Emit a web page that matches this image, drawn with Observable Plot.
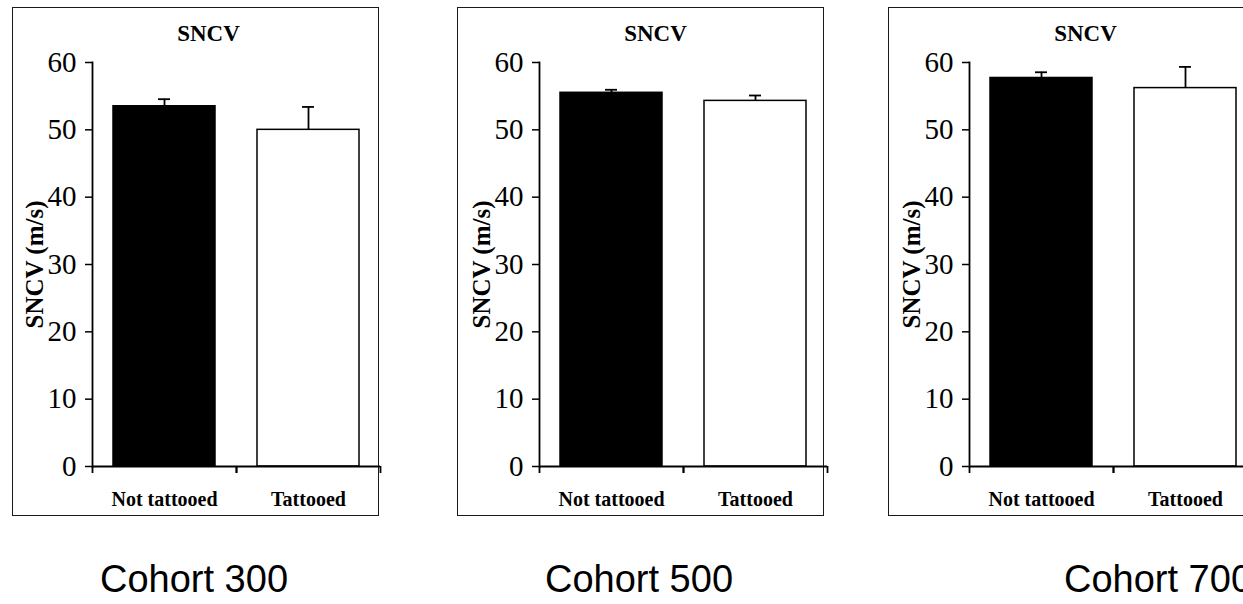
<!DOCTYPE html>
<html>
<head>
<meta charset="utf-8">
<script src="https://cdn.jsdelivr.net/npm/d3@7"></script>
<script src="https://cdn.jsdelivr.net/npm/@observablehq/plot@0.6"></script>
<style>
  html, body { margin: 0; padding: 0; background: #fff; }
  #root { position: relative; width: 1243px; height: 604px; overflow: hidden; background: #fff; }
  .frame { position: absolute; box-sizing: border-box; border: 1.5px solid #1a1a1a; }
  .panel { position: absolute; width: 400px; }
  .panel svg { overflow: visible; max-width: none !important; }
  .cohort { position: absolute; font-family: "Liberation Sans", Arial, sans-serif; font-size: 38px; line-height: 38px; white-space: nowrap; color: #000; }
</style>
</head>
<body>
<div id="root"></div>
<script>
// ---- data ----
const categories = ["Not tattooed", "Tattooed"];
const cohorts = ["Cohort 300", "Cohort 500", "Cohort 700"];
const means300 = [53.5, 50.0];
const errs300  = [1.05, 3.4];
const means500 = [55.5, 54.3];
const errs500  = [0.45, 0.8];
const means700 = [57.7, 56.2];
const errs700  = [0.85, 3.15];
const barFills = ["black", "white"];
const yTicks = [0, 10, 20, 30, 40, 50, 60];
const panelTitle = "SNCV";
const yLabel = "SNCV (m/s)";

// ---- layout (styling only) ----
const frameLefts = [12, 457, 888];
const axisLefts = [92, 539, 969];
const cohortLefts = [100, 545, 1064];
const mL = 80, mR = 4, mT = 55, mB = 50, innerW = 288, H = 509;
const padIn = 0.29, padOut = padIn / 2;
const step = innerW / categories.length;

const series = [[means300, errs300], [means500, errs500], [means700, errs700]];
const root = document.getElementById("root");

series.forEach(([means, errs], i) => {
  const rows = categories.map((c, j) => ({cat: c, mean: means[j], err: errs[j], fill: barFills[j]}));

  const frame = document.createElement("div");
  frame.className = "frame";
  frame.style.left = frameLefts[i] + "px";
  frame.style.top = "7px";
  frame.style.width = "367px";
  frame.style.height = H + "px";
  root.appendChild(frame);

  const chart = Plot.plot({
    width: mL + innerW + mR,
    height: H,
    marginLeft: mL, marginRight: mR, marginTop: mT, marginBottom: mB,
    x: {domain: categories, paddingInner: padIn, paddingOuter: padOut, axis: null},
    y: {domain: [0, 60], axis: null},
    color: {type: "identity"},
    style: {fontFamily: "'Liberation Serif', 'Times New Roman', serif", background: "transparent", color: "black", overflow: "visible", maxWidth: "none"},
    marks: [
      Plot.barY(rows, {x: "cat", y: "mean", fill: "fill", stroke: "black", strokeWidth: 1.5}),
      Plot.ruleX(rows, {x: "cat", y1: "mean", y2: d => d.mean + d.err, stroke: "black", strokeWidth: 1.8}),
      Plot.tickY(rows, {x: "cat", y: d => d.mean + d.err, insetLeft: 45, insetRight: 45, stroke: "black", strokeWidth: 1.8}),
      Plot.ruleY([0], {stroke: "black", strokeWidth: 1.8}),
      Plot.frame({anchor: "left", stroke: "black", strokeWidth: 1.8}),
      Plot.axisY({ticks: yTicks, tickSize: 7, tickPadding: 9, fontSize: 29, label: null, stroke: "black", strokeWidth: 1.5}),
      Plot.axisX({tickSize: 0, tickPadding: 25, fontSize: 20, fontWeight: "bold", label: null}),
      Plot.ruleX(categories, {x: d => d, y1: 0, y2: 0, insetBottom: -7, dx: -step / 2, stroke: "black", strokeWidth: 1.8}),
      Plot.ruleX(categories, {x: d => d, y1: 0, y2: 0, insetBottom: -7, dx: step / 2, stroke: "black", strokeWidth: 1.8}),
      Plot.text([yLabel], {frameAnchor: "left", rotate: -90, dx: -58, fontSize: 25, fontWeight: "bold", textAnchor: "middle", lineAnchor: "middle", fill: "black"}),
      Plot.text([panelTitle], {frameAnchor: "top", dx: -28, dy: -29, fontSize: 23, fontWeight: "bold", textAnchor: "middle", lineAnchor: "middle", fill: "black"})
    ]
  });
  const holder = document.createElement("div");
  holder.className = "panel";
  holder.style.left = (axisLefts[i] - mL) + "px";
  holder.style.top = "7px";
  holder.appendChild(chart);
  root.appendChild(holder);

  const lab = document.createElement("div");
  lab.className = "cohort";
  lab.textContent = cohorts[i];
  lab.style.left = cohortLefts[i] + "px";
  lab.style.top = "560px";
  root.appendChild(lab);
});
</script>
</body>
</html>
